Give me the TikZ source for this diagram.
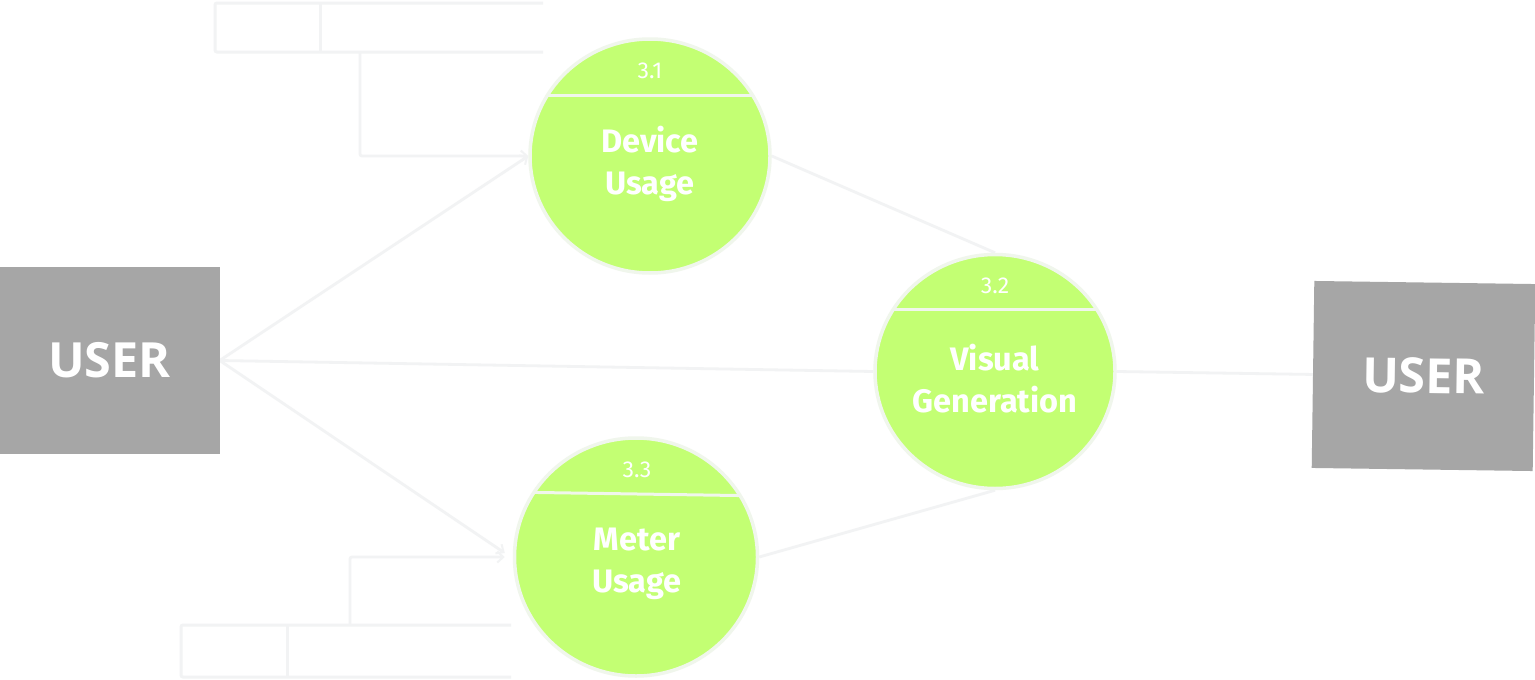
\documentclass[tikz,border=0pt]{standalone}
\usepackage{fontspec}
\setmainfont{Fira Sans}
\newfontfamily\userfont{Open Sans}
\usetikzlibrary{arrows.meta,shapes.geometric,backgrounds}
\definecolor{procgreen}{RGB}{195,255,115}
\definecolor{ringcol}{RGB}{240,246,236}
\definecolor{linecol}{RGB}{242,243,244}
\definecolor{boxgray}{RGB}{166,166,166}
\begin{document}
\begin{tikzpicture}[x=1pt,y=-1pt,
  userbox/.style={fill=boxgray,draw=none,minimum width=220pt,minimum height=187pt,inner sep=0pt,
    text=white,font=\userfont\bfseries\fontsize{48.5}{50}\selectfont},
  procbub/.style={ellipse,fill=procgreen,draw=ringcol,line width=3.5pt,inner sep=0pt,
    minimum width=240pt,minimum height=234pt},
  proclabel/.style={text=white,font=\bfseries\fontsize{32.5}{42}\selectfont,align=center,inner sep=0pt},
  procnum/.style={text=white,font=\fontsize{23}{24}\selectfont,inner sep=0pt},
  flow/.style={draw=linecol,line width=2.8pt},
  flowarr/.style={flow,-{Straight Barb[length=6pt,width=11pt,line width=2pt]}},
  storeline/.style={draw=linecol,line width=3pt,rounded corners=2pt}
]
\useasboundingbox (0,0) rectangle (1535,680);

% entities
\node[userbox] (user1) at (109.5,360.5) {USER};
\node[userbox,rotate=-0.8,minimum width=221pt] (user2) at (1423.5,376) {USER};

% processes
\node[procbub] (c1) at (650,156) {};
\node[procbub] (c2) at (995,371.5) {};
\node[procbub,minimum width=243pt,minimum height=238pt] (c3) at (636,557) {};

% dividers
\begin{scope}
\clip (c1.center) ellipse [x radius=120pt, y radius=117pt];
\draw[ringcol,line width=3pt] (520,95) -- (780,95);
\end{scope}
\begin{scope}
\clip (c2.center) ellipse [x radius=120pt, y radius=117pt];
\draw[ringcol,line width=3pt] (865,309.5) -- (1125,309.5);
\end{scope}
\begin{scope}
\clip (c3.center) ellipse [x radius=121.5pt, y radius=119pt];
\draw[ringcol,line width=3pt] (505,492) -- (770,496);
\end{scope}

% labels
\node[procnum] (n1) at (650,71) {3.1};
\node[proclabel] (t1) at (650,164) {Device\\Usage};
\node[procnum] (n2) at (995,286) {3.2};
\node[proclabel] (t2) at (995,379) {Visual\\Generation};
\node[procnum] (n3) at (637,470) {3.3};
\node[proclabel] (t3) at (637,564) {Meter\\Usage};

% data stores
\coordinate (s1a) at (543,3);
\coordinate (s1b) at (543,52);
\draw[storeline] (s1a) -- (215,3) -- (215,52) -- (s1b);
\draw[storeline] (320,3) -- (320,52);
\coordinate (s1tap) at (360,52);
\coordinate (s3a) at (511,625);
\coordinate (s3b) at (511,677);
\draw[storeline] (s3a) -- (181,625) -- (181,677) -- (s3b);
\draw[storeline] (287,625) -- (287,677);
\coordinate (s3tap) at (350,625);

\begin{scope}[on background layer]
\fill[white] (0,0) rectangle (1535,680);
\draw[flowarr,rounded corners=2pt] (s1tap) |- (c1.west);
\draw[flowarr,rounded corners=2pt] (s3tap) |- ([xshift=-8pt]c3.west);
\draw[flowarr] (user1.east) -- (c1.west);
\draw[flow] (user1.east) -- (c2.west);
\draw[flowarr] (user1.east) -- ([xshift=-8pt,yshift=4pt]c3.west);
\draw[flow] (c1.east) -- (c2.north);
\draw[flow] (c3.east) -- (c2.south);
\draw[flow] (c2.east) -- (user2.west);
\end{scope}
\end{tikzpicture}
\end{document}
